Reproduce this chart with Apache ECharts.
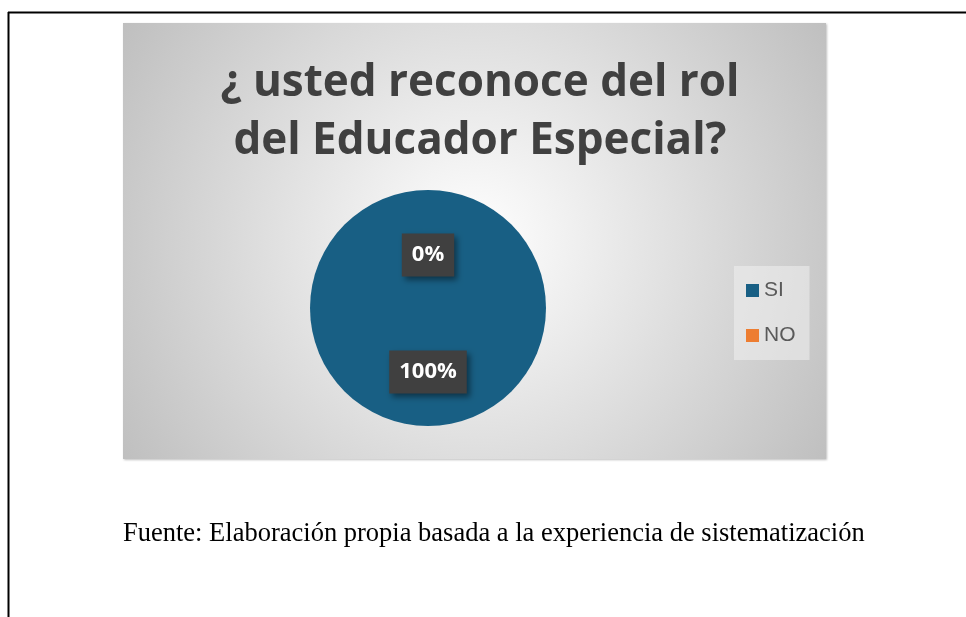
<!DOCTYPE html>
<html>
<head>
<meta charset="utf-8">
<script src="https://cdn.jsdelivr.net/npm/echarts@6/dist/echarts.min.js"></script>
<style>
  html, body { margin: 0; padding: 0; background: #fff; }
  #chart { width: 966px; height: 617px; }
</style>
</head>
<body>
<div id="chart"></div>
<script>
const categories = ['SI', 'NO']
const values = [100, 0]
const colors = ['#185f84', '#ed7d31']
const titleText = '¿ usted reconoce del rol\ndel Educador Especial?'
const sourceText = 'Fuente: Elaboración propia basada a la experiencia de sistematización'

const chart = echarts.init(document.getElementById('chart'))

// small nudge so the labels sit where the original has them
const labelOffsets = [[0, 2], [0, 9]]

const option = {
  animation: false,
  color: colors,
  graphic: [
    // page frame lines
    { type: 'line', shape: { x1: 8, y1: 12.5, x2: 966, y2: 12.5 }, style: { stroke: '#000', lineWidth: 2 } },
    { type: 'line', shape: { x1: 8.5, y1: 12, x2: 8.5, y2: 617 }, style: { stroke: '#000', lineWidth: 2 } },
    // chart panel
    {
      type: 'rect', z: -10,
      shape: { x: 123, y: 23, width: 703, height: 436 },
      style: {
        fill: {
          type: 'radial', x: 0.5, y: 0.5, r: 0.98,
          colorStops: [
            { offset: 0, color: '#ffffff' },
            { offset: 1, color: '#bdbdbd' }
          ]
        },
        shadowColor: 'rgba(0,0,0,0.25)', shadowBlur: 2, shadowOffsetX: 1, shadowOffsetY: 1
      }
    },
    {
      type: 'text', left: 123, top: 521,
      style: { text: sourceText, font: '26.5px "Liberation Serif"', fill: '#000' }
    }
  ],
  title: {
    text: titleText,
    left: 475, top: 49, textAlign: 'center',
    textStyle: { fontFamily: 'Open Sans', fontWeight: 'bold', fontSize: 44, lineHeight: 58, color: '#404040' }
  },
  legend: {
    orient: 'vertical',
    left: 734, top: 266,
    data: categories,
    icon: 'rect', itemWidth: 13, itemHeight: 13,
    itemGap: 24,
    padding: [14, 14, 14, 12],
    backgroundColor: 'rgba(240,240,240,0.55)',
    textStyle: { fontFamily: 'Liberation Sans', fontSize: 21, color: '#595959', padding: [0, 0, 0, 0] }
  },
  series: [{
    type: 'pie',
    center: [428, 308],
    radius: [0, 118],
    startAngle: 90,
    clockwise: true,
    data: categories.map((c, i) => ({ name: c, value: values[i], label: { offset: labelOffsets[i] } })),
    label: {
      show: true,
      position: 'inside',
      formatter: '{d}%',
      fontFamily: 'Open Sans',
      fontWeight: 'bold',
      fontSize: 22,
      color: '#fff',
      backgroundColor: '#404040',
      padding: [11, 10, 10, 10],
      shadowColor: 'rgba(0,0,0,0.45)', shadowBlur: 6, shadowOffsetX: 3, shadowOffsetY: 3
    },
    labelLine: { show: false },
    emphasis: { disabled: true }
  }]
}

chart.setOption(option)
</script>
</body>
</html>
